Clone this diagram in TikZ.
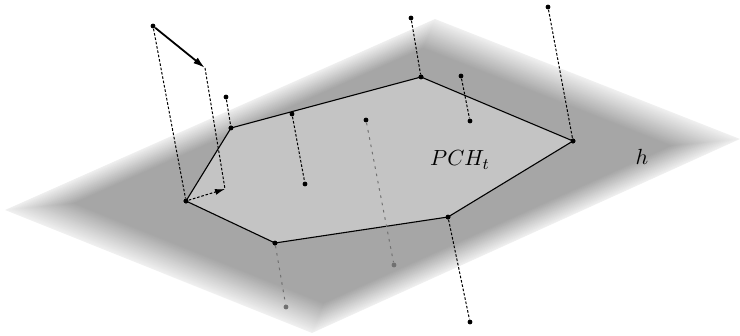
\documentclass[tikz,border=0pt,11pt]{standalone}
\usepackage{tikz}
\usetikzlibrary{arrows.meta,calc}
\definecolor{HullGray}{HTML}{C4C4C4}
\definecolor{BelowGray}{HTML}{707070}

\begin{document}
\begin{tikzpicture}[x=0.5pt,y=-0.5pt,>=Latex,
  dot/.style={circle,fill=black,inner sep=0pt,minimum size=2.4pt},
  lowdot/.style={dot,fill=BelowGray},
  proj/.style={line width=0.5pt,dash pattern=on 1.3pt off 0.9pt},
  lowproj/.style={line width=0.5pt,BelowGray,dash pattern=on 1.3pt off 2.4pt},
  hull/.style={fill=HullGray,draw=black,line width=0.55pt}]
  \useasboundingbox (0,0) rectangle (740,336);
  % plane h with faded rim
  \coordinate (pl) at (5,210);
  \coordinate (pt) at (435,19);
  \coordinate (pr) at (740,139);
  \coordinate (pb) at (312,333);
  \coordinate (pc) at ($(pl)!0.5!(pr)$);
  \foreach \i [evaluate=\i as \s using 1-0.0065*\i, evaluate=\i as \c using int(6+\i)] in {0,...,29}
    \fill[black!\c] ($(pc)!\s!(pl)$) -- ($(pc)!\s!(pt)$) -- ($(pc)!\s!(pr)$) -- ($(pc)!\s!(pb)$) -- cycle;
  % hull vertices
  \node[dot] (a) at (186,201) {};
  \node[dot] (b) at (231,128) {};
  \node[dot] (c) at (421,77) {};
  \node[dot] (d) at (573,141) {};
  \node[dot] (e) at (448,217) {};
  \node[dot] (f) at (275,243) {};
  \filldraw[hull] (a.center) -- (b.center) -- (c.center) -- (d.center) -- (e.center) -- (f.center) -- cycle;
  \foreach \v in {a,b,c,d,e,f} \node[dot] at (\v) {};
  % points off the plane
  \node[dot] (p1) at (153,26) {};
  \coordinate (v1) at (205,68);
  \coordinate (v2) at (225,189);
  \node[dot] (p2) at (226,97) {};
  \node[dot] (p3) at (411,18) {};
  \node[dot] (p4) at (461,76) {};
  \node[dot] (q4) at (470,121) {};
  \node[dot] (p5) at (292,114) {};
  \node[dot] (q5) at (305,184) {};
  \node[dot] (p6) at (366,120) {};
  \node[lowdot] (q6) at (394,265) {};
  \node[dot] (p7) at (548,7) {};
  \node[dot] (q8) at (470,322) {};
  \node[lowdot] (q9) at (286,307) {};
  \draw[line width=0.9pt,-{Latex[length=6pt,width=3.5pt]}] (p1) -- (v1);
  \draw[proj] (p1) -- (a);
  \draw[proj] (v1) -- (v2);
  \draw[proj,-{Latex[length=5pt,width=3pt]}] (a) -- (v2);
  \draw[proj] (p2) -- (b);
  \draw[proj] (p3) -- (c);
  \draw[proj] (p4) -- (q4);
  \draw[proj] (p5) -- (q5);
  \draw[lowproj] (p6) -- (q6);
  \draw[proj] (p7) -- (d);
  \draw[proj] (e) -- (q8);
  \draw[lowproj] (f) -- (q9);
  \node (hlabel) at (460,160) {$PCH_t$};
  \node (plabel) at (642,157) {$h$};
\end{tikzpicture}
\end{document}
